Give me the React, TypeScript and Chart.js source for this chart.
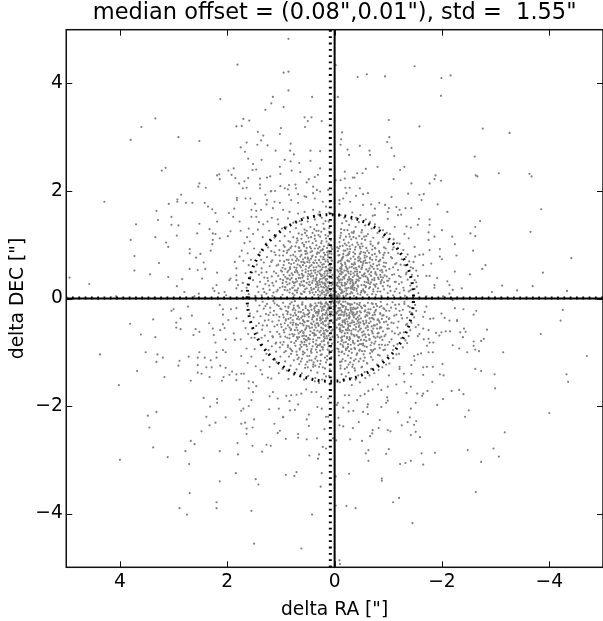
import React, { useEffect, useRef } from "react";
import { Chart, registerables } from "chart.js";

Chart.register(...registerables);

const titleText = 'median offset = (0.08",0.01"), std =  1.55"';
const xLabel = 'delta RA ["]';
const yLabel = 'delta DEC ["]';
const tickValues = [4, 2, 0, -2, -4];
const medianRa = 0.08;
const medianDec = 0.01;
const stdRadius = 1.55;

const outerNW = [[.86,4.83],[1.81,4.35],[.95,4.2],[.86,4.22],[.86,3.87],[2.13,3.71],[1.15,3.75],[1.18,3.63],[.42,3.75],[.95,3.56],[1.29,3.51],[3.34,3.35],[3.6,3.19],[3.8,2.95],[2.91,3.0],[2.52,2.93],[1.7,3.34],[1.59,3.31],[1.73,3.21],[1.83,3.2],[.56,3.37],[.43,3.37],[.5,3.3],[.55,3.19],[.24,3.3],[1.0,3.17],[1.02,3.06],[1.43,3.1],[1.33,3.03],[1.37,2.94],[1.44,2.86],[1.25,2.85],[.82,2.88],[1.75,2.81],[1.67,2.73],[1.64,2.9],[1.1,2.75],[.83,2.75],[.45,2.75],[.27,2.74],[.76,2.68],[1.61,2.6],[1.36,2.58],[.93,2.58],[.82,2.55],[.66,2.52],[.45,2.56],[1.52,2.5],[1.02,2.45],[1.53,2.39],[1.46,2.4],[.27,2.42],[3.15,2.43],[3.22,2.38],[1.88,2.42],[1.98,2.38],[1.92,2.3],[2.15,2.31],[2.19,2.29],[2.14,2.22],[.8,2.38],[.64,2.35],[1.01,2.32],[1.2,2.27],[1.26,2.25],[1.61,2.24],[1.39,2.23],[.31,2.3],[.37,2.26],[.48,2.22],[1.85,2.24],[.52,2.16],[1.68,2.18],[1.39,2.12],[1.78,2.14],[2.52,2.14],[2.54,2.08],[2.4,2.06],[1.64,2.06],[1.71,2.05],[1.39,2.05],[.73,2.12],[.85,2.11],[1.01,2.09],[.72,2.05],[.93,2.05],[1.11,2.0],[1.19,1.99],[.4,2.08],[.33,2.02],[4.29,1.8],[2.86,1.93],[2.93,1.84],[2.93,1.8],[3.09,1.76],[2.77,1.78],[2.65,1.78],[2.42,1.78],[2.36,1.71],[2.28,1.66],[2.22,1.59],[3.32,1.63],[3.04,1.52],[3.29,1.46],[1.97,1.59],[1.87,1.67],[1.89,1.52],[1.77,1.43],[2.19,1.43],[2.52,1.39],[3.7,1.38],[3.04,1.37],[2.91,1.36],[1.82,1.87],[1.82,1.83],[1.66,1.86],[1.57,1.86],[1.48,1.76],[1.55,1.65],[1.46,1.63],[1.37,1.65],[1.55,1.52],[1.46,1.52],[1.29,1.93],[1.18,2.0],[1.26,1.83],[1.12,1.8],[1.02,1.78],[.85,1.93],[.87,2.03],[.68,1.94],[.56,1.9],[.4,1.96],[.27,1.99],[.12,2.02],[1.27,1.75],[1.15,1.68],[.96,1.65],[.84,1.61],[.68,1.58],[.56,1.61],[.4,1.65],[.28,1.61],[.16,1.71],[.09,1.8],[.22,1.8],[.37,1.86],[.53,1.89],[.68,1.78],[.81,1.83],[3.8,1.09],[3.34,1.14],[3.14,1.04],[3.1,.96],[3.73,.79],[3.73,.52],[3.27,.66],[3.44,.45],[3.1,.4],[2.84,.36],[2.94,.23],[4.94,.39],[4.57,.27],[2.7,.92],[2.7,.84],[2.58,.76],[2.5,.83],[2.44,.67],[2.7,.55],[2.55,.53],[2.41,.55],[2.47,.37],[2.8,.12],[4.07,.04],[2.61,.04],[2.53,.09],[2.19,.48],[2.31,.89],[2.56,1.21],[2.33,1.29],[2.27,1.21],[2.22,1.2],[2.14,1.12],[1.99,1.16],[1.94,1.25],[1.75,1.26],[2.94,1.17],[2.27,1.09],[2.28,1.01],[1.73,.89],[1.58,1.06],[1.86,.68],[1.77,.78],[1.7,.7],[1.83,.56],[1.83,.43],[1.96,.34],[1.83,.34],[2.2,.25],[2.27,.19],[2.24,.14],[2.16,.1],[2.05,.12],[2.02,.06],[1.94,.37],[1.8,.25],[1.71,.29],[1.73,.14],[1.83,.19],[1.41,1.42],[1.33,1.38],[1.25,1.43],[1.17,1.5],[1.06,1.47],[1.43,1.28],[1.52,1.2],[1.6,1.3],[1.63,1.14],[1.68,1.03],[1.62,.84],[1.6,.62],[1.66,.47],[1.57,.4],[1.64,.2],[1.6,.08]];

const outerNE = [[-1.49,4.32],[-.6,4.17],[-.43,4.12],[-.94,4.13],[-1.99,4.1],[-2.16,4.15],[-1.98,3.77],[-.02,4.34],[-.06,3.75],[-1.01,3.32],[-1.58,3.2],[-2.76,3.16],[-3.26,3.08],[-.14,3.09],[-.12,2.96],[-.11,2.86],[-.47,2.84],[-1.02,3],[-.98,2.91],[-1.06,2.8],[-1.11,2.65],[-.24,2.77],[-.27,2.67],[-.65,2.75],[-.66,2.67],[-2.61,2.64],[-.8,2.45],[-.58,2.41],[-.52,2.33],[-.42,2.33],[-.19,2.36],[-.37,2.25],[-.34,2.25],[-.19,2.23],[-.11,2.2],[-.02,2.2],[-1.3,2.45],[-1.22,2.39],[-1.1,2.22],[-1.43,2.14],[-1.88,2.29],[-1.86,2.22],[-1.98,2.19],[-1.77,2.14],[-2.63,2.29],[-2.66,2.27],[-3.06,2.33],[-3.63,2.32],[-3.67,2.27],[-3.85,1.66],[-4.41,.75],[-3.88,.48],[-3.65,1.24],[-3.69,.23],[-3.4,.15],[-4.33,.14],[-3.12,.24],[-2.93,.12],[-2.37,.19],[-2.2,.16],[-2.71,1.44],[-2.62,1.33],[-2.53,1.21],[-2.62,1.16],[-2.58,.89],[-2.81,.62],[-2.75,.55],[-2.52,.45],[-2.1,1.61],[-1.92,1.75],[-1.62,1.83],[-1.58,1.93],[-1.66,1.94],[-1.37,1.95],[-1.06,1.89],[-.47,2.05],[-.28,2.06],[-.2,2.06],[-.22,1.96],[-.53,1.94],[-.62,1.96],[-.4,1.91],[-.29,1.8],[-.16,1.86],[-.09,1.83],[-.09,1.76],[-.53,1.74],[-.68,1.75],[-.83,1.78],[-.75,1.67],[-.94,1.74],[-1.01,1.68],[-1.15,1.7],[-1.32,1.68],[-1.43,1.68],[-1.21,1.65],[-1.18,1.55],[-1.24,1.56],[-.99,1.61],[-.99,1.48],[-.75,1.55],[-.71,1.54],[-1.57,1.48],[-1.77,1.47],[-1.55,1.37],[-1.77,1.37],[-1.34,1.34],[-1.42,1.32],[-1.75,1.23],[-2,1.27],[-1.86,1.15],[-1.75,1.09],[-1.49,.96],[-1.77,.9],[-1.96,.92],[-1.65,.82],[-1.58,.81],[-2.27,.8],[-2.24,1.01],[-2.19,1.15],[-1.96,.78],[-2,.73],[-1.8,.65],[-1.65,.62],[-1.47,.68],[-1.46,.56],[-1.77,.42],[-1.71,.42],[-1.91,.38],[-2.1,.32],[-2.14,.25],[-2.24,.5],[-1.86,.25],[-1.86,.2],[-2.14,.09],[-2.02,.04],[-1.71,.04],[-1.52,.3],[-1.49,.18],[-1.55,.42],[-1.38,1.12],[-1.3,1.2],[-1.12,1.33],[-1.5,.78],[-1.56,.1]];

const outerSW = [[4.37,-1.04],[4.02,-1.61],[4.0,-3.0],[3.81,-.47],[3.61,-.67],[3.38,-.39],[3.34,-.72],[3.52,-1.0],[3.3,-1.04],[3.32,-1.18],[3.2,-1.1],[3.68,-1.35],[3.17,-1.46],[3.48,-2.18],[3.32,-2.11],[3.45,-2.4],[3.38,-2.77],[3.11,-2.95],[2.78,-2.84],[2.71,-3.08],[2.68,-2.65],[2.61,-2.71],[2.7,-3.62],[2.89,-3.9],[2.75,-4.02],[2.2,-3.79],[2.2,-3.9],[2.14,-2.84],[2.14,-3.4],[1.84,-3.25],[1.8,-2.9],[1.55,-3.95],[1.5,-4.56],[.62,-4.65],[.42,-4.02],[.26,-3.5],[.24,-3.25],[1.47,-3.36],[1.42,-3.46],[.91,-3.28],[.75,-3.3],[.71,-3.23],[.47,-2.92],[.31,-2.98],[.29,-2.9],[.22,-2.76],[.16,-2.79],[1.27,-2.72],[1.19,-2.74],[1.35,-2.85],[1.53,-2.74],[1.81,-2.69],[.91,-2.61],[.68,-2.52],[.68,-2.59],[.52,-2.62],[.33,-2.6],[2.48,-2.47],[2.33,-2.36],[2.22,-2.31],[2.39,-2.2],[2.03,-2.21],[2.44,-1.85],[2.32,-2.01],[2.19,-1.87],[2.19,-1.94],[1.74,-2.33],[1.67,-2.31],[1.53,-2.4],[1.64,-2.42],[1.64,-2.52],[1.5,-2.25],[1.12,-2.33],[1.02,-2.46],[1.06,-2.5],[.96,-2.21],[.48,-2.16],[.52,-2.25],[.48,-2.37],[.19,-2.43],[.12,-2.2],[.16,-2.2],[.03,-2.6],[1.74,-2.09],[1.7,-2.05],[1.77,-1.88],[1.55,-1.89],[1.6,-2],[1.22,-2.06],[1.04,-2.05],[.83,-2.08],[.74,-2.07],[.96,-2.2],[.68,-1.97],[.32,-2.02],[.24,-2.05],[3.0,-.2],[3.04,-.23],[2.73,-.15],[2.87,-.37],[2.66,-.32],[2.95,-.45],[2.95,-.54],[2.87,-.57],[2.59,-.57],[2.63,-.68],[2.52,-.62],[2.34,-.46],[2.27,-.56],[2.25,-.68],[2.2,-1.0],[2.72,-1.08],[2.89,-1.16],[2.91,-1.25],[2.55,-1.1],[2.55,-1.24],[2.55,-1.38],[2.48,-1.4],[2.42,-1.1],[2.31,-1.15],[2.39,-1.28],[2.29,-1.28],[2.33,-1.46],[2.68,-1.53],[2.52,-1.0],[2.2,-1.1],[2.08,-.96],[2.03,-1.0],[2.13,-1.25],[2.03,-1.29],[1.91,-1.36],[1.96,-1.42],[2.07,-1.46],[2.1,-1.53],[2.14,-.12],[2.08,-.2],[1.93,-.2],[1.83,-.18],[2.08,-.3],[1.98,-.4],[1.83,-.37],[2.08,-.48],[2.13,-.59],[2.05,-.55],[1.88,-.65],[2.03,-.76],[1.86,-.77],[1.75,-.76],[2.22,-.82],[1.61,-.66],[1.49,-.73],[1.64,-.93],[1.74,-1.07],[1.83,-1.41],[1.74,-1.4],[1.69,-1.4],[1.83,-1.52],[1.6,-1.54],[1.52,-1.56],[1.46,-1.63],[1.35,-1.41],[1.24,-1.47],[1.18,-1.49],[1.6,-1.67],[1.52,-1.74],[1.21,-1.82],[1.15,-1.74],[1.06,-1.86],[.9,-1.81],[.81,-1.8],[.71,-1.79],[.62,-1.77],[.84,-1.91],[.53,-1.69],[.34,-1.74],[.25,-1.83],[.12,-1.86],[.43,-1.74],[1.62,-1.2],[1.55,-1.08],[1.47,-1.26],[1.38,-1.33],[1.66,-.55],[1.7,-.42],[1.58,-.28],[1.62,-.14]];

const outerSE = [[-4.25,-.21],[-4.21,-.41],[-3.84,-.66],[-4.7,-1.07],[-4.32,-1.41],[-4.35,-1.55],[-4.0,-2.13],[-3.17,-2.49],[-3.14,-1.0],[-2.98,-1.41],[-2.99,-1.67],[-2.4,-1.78],[-2.32,-1.7],[-2.18,-1.72],[-2.5,-2.08],[-2.43,-2.2],[-2.48,-2.82],[-2.96,-2.79],[-3.06,-2.94],[-2.73,-3.04],[-2.63,-3.6],[-1.45,-4.18],[-.09,-4.87],[-.1,-4.94],[-.39,-3.9],[-.22,-3.86],[-.02,-3.85],[-1.09,-3.79],[-1.2,-3.71],[-.88,-3.35],[-.88,-3.39],[-.27,-3.26],[-.02,-3.31],[-1.22,-3.08],[-1.32,-3.06],[-1.42,-3.02],[-1.65,-3.09],[-1.87,-2.87],[-1.62,-2.88],[-1.01,-2.8],[-.96,-2.89],[-.63,-2.82],[-.58,-2.88],[-.63,-3.02],[-.29,-2.62],[-.51,-2.65],[-.03,-2.64],[-1.42,-2.54],[-1.59,-2.58],[-1.51,-2.48],[-.99,-2.45],[-1.04,-2.47],[-.71,-2.45],[-.7,-2.51],[-.66,-2.56],[-.82,-2.41],[-.84,-2.26],[-.45,-2.3],[-.34,-2.41],[-.16,-2.38],[-.09,-2.36],[-.07,-2.22],[-1.25,-2.36],[-1.36,-2.3],[-1.4,-2.21],[-1.52,-2.28],[-1.48,-2.35],[-1.18,-2.12],[-1.42,-2.05],[-1.51,-1.94],[-1.91,-1.98],[-2.02,-1.87],[-1.73,-1.72],[-1.63,-1.81],[-1.54,-1.77],[-1.34,-1.76],[-.98,-1.84],[-.99,-1.9],[-.96,-1.94],[-.87,-2.02],[-.62,-1.97],[-.61,-2.02],[-.62,-2.15],[-.53,-2.11],[-.35,-2.09],[-.26,-2.1],[-.16,-2.03],[-.06,-1.94],[-.04,-1.98],[-.26,-1.94],[-.19,-1.8],[-.27,-1.8],[-.42,-1.89],[-.48,-1.81],[-.56,-1.78],[-.63,-1.72],[-.71,-1.69],[-.87,-1.7],[-.81,-1.6],[-.99,-1.64],[-1.15,-1.6],[-1.3,-1.55],[-1.42,-1.64],[-1.65,-1.77],[-1.96,-1.41],[-2.03,-1.43],[-1.82,-1.55],[-1.65,-1.42],[-1.43,-1.4],[-1.29,-1.4],[-1.01,-1.43],[-1.21,-1.27],[-1.21,-1.31],[-1.43,-1.24],[-1.65,-1.28],[-1.72,-1.27],[-1.83,-1.27],[-2.01,-1.22],[-2.62,-1.31],[-2.73,-1.35],[-2.47,-1.0],[-2.62,-.95],[-2.69,-.98],[-2.59,-.88],[-2.32,-.93],[-2.2,-.87],[-2.78,-.75],[-2.73,-.79],[-2.59,-.8],[-2.44,-.62],[-2.39,-.72],[-2.34,-.63],[-2.41,-.56],[-2.84,-.58],[-2.64,-.23],[-2.59,-.3],[-2.4,-.2],[-2.28,-.4],[-2.28,-.42],[-2.24,-.18],[-2.05,-.36],[-2.14,-.41],[-2.07,-.61],[-2.15,-.61],[-1.99,-.63],[-1.89,-.64],[-1.95,-.69],[-1.75,-.59],[-1.84,-.82],[-1.77,-.82],[-1.75,-.75],[-1.66,-.76],[-1.72,-.88],[-1.83,-1.0],[-1.75,-1.0],[-1.61,-1.02],[-1.55,-1.04],[-1.48,-1.07],[-1.49,-1.15],[-1.65,-.34],[-1.68,-.25],[-1.84,-.37],[-1.78,-.38],[-1.56,-.49],[-1.65,-.56],[-1.58,-.66],[-1.55,-.7],[-1.71,-.15],[-1.99,-.28],[-2.2,-.03],[-1.5,-.12],[-1.44,-.27]];

const innerNW = [[1.48,.05],[1.42,.12],[1.36,.06],[1.44,.22],[1.33,.18],[1.27,.09],[1.39,.31],[1.29,.27],[1.21,.16],[1.16,.05],[1.41,.44],[1.31,.39],[1.24,.33],[1.14,.24],[1.08,.13],[1.36,.56],[1.27,.49],[1.17,.41],[1.09,.32],[1.02,.2],[.97,.07],[1.32,.67],[1.21,.6],[1.13,.5],[1.05,.42],[.97,.29],[.93,.16],[1.26,.77],[1.16,.71],[1.08,.61],[1.0,.52],[.92,.4],[.88,.26],[.84,.11],[1.18,.88],[1.1,.81],[1.02,.7],[.95,.62],[.88,.49],[.83,.35],[.79,.2],[.75,.06],[1.1,.98],[1.03,.9],[.96,.8],[.89,.72],[.83,.58],[.78,.44],[.73,.3],[.7,.15],[1.02,1.07],[.95,.99],[.88,.89],[.82,.8],[.76,.66],[.72,.53],[.67,.38],[.64,.24],[.61,.08],[.93,1.16],[.86,1.07],[.8,.97],[.74,.87],[.7,.74],[.65,.61],[.61,.46],[.57,.32],[.55,.17],[.83,1.24],[.77,1.14],[.71,1.04],[.66,.94],[.62,.81],[.58,.68],[.54,.54],[.5,.41],[.48,.26],[.46,.1],[.72,1.31],[.67,1.21],[.62,1.11],[.57,1.0],[.53,.88],[.5,.74],[.46,.6],[.43,.47],[.41,.33],[.39,.18],[.62,1.38],[.56,1.28],[.52,1.17],[.48,1.06],[.44,.93],[.41,.8],[.38,.66],[.36,.53],[.34,.39],[.32,.25],[.31,.07],[.5,1.43],[.45,1.33],[.41,1.22],[.37,1.11],[.34,.99],[.32,.86],[.29,.72],[.27,.59],[.26,.45],[.24,.31],[.23,.15],[.37,1.47],[.33,1.37],[.3,1.26],[.27,1.15],[.25,1.03],[.23,.9],[.21,.77],[.2,.64],[.18,.5],[.17,.36],[.16,.22],[.15,.09],[.24,1.5],[.21,1.39],[.19,1.29],[.17,1.18],[.15,1.06],[.14,.94],[.13,.81],[.12,.68],[.11,.55],[.1,.41],[.09,.28],[.08,.14],[.11,1.43],[.1,1.31],[.09,1.2],[.07,1.08],[.06,.96],[.06,.83],[.05,.7],[.05,.57],[.04,.44],[.04,.3],[.03,.19],[.03,.07],[.96,.34],[.87,.37],[.78,.31],[.69,.48],[.6,.39],[.52,.29],[.44,.2],[.35,.12],[.27,.06],[.2,.12],[.13,.2],[.92,.55],[.85,.66],[.75,.58],[.67,.71],[.59,.62],[.49,.51],[.4,.42],[.33,.31],[.25,.22],[.19,.29],[.14,.36],[.82,.94],[.73,.78],[.63,.89],[.55,.76],[.47,.67],[.39,.58],[.31,.5],[.23,.43],[.17,.58],[.13,.47],[.7,1.12],[.6,1.03],[.52,.94],[.42,.88],[.35,.77],[.26,.67],[.19,.73],[.12,.88],[.08,.63],[.55,1.22],[.44,1.14],[.35,1.07],[.28,.96],[.2,.85],[.11,1.02]];

const innerNE = [[-1.46,.06],[-1.38,.13],[-1.31,.05],[-1.41,.24],[-1.28,.2],[-1.21,.1],[-1.36,.35],[-1.25,.3],[-1.15,.18],[-1.09,.06],[-1.34,.48],[-1.2,.42],[-1.12,.31],[-1.03,.22],[-.99,.1],[-1.3,.62],[-1.18,.53],[-1.07,.44],[-.98,.33],[-.92,.17],[-.87,.05],[-1.25,.73],[-1.13,.64],[-1.02,.55],[-.93,.43],[-.86,.28],[-.8,.13],[-1.18,.84],[-1.07,.75],[-.96,.66],[-.88,.53],[-.81,.39],[-.75,.25],[-.7,.08],[-1.1,.95],[-1.0,.85],[-.9,.76],[-.83,.63],[-.76,.49],[-.7,.35],[-.64,.19],[-1.0,1.05],[-.92,.95],[-.84,.85],[-.77,.72],[-.7,.59],[-.65,.45],[-.6,.3],[-.57,.12],[-.9,1.14],[-.82,1.04],[-.76,.93],[-.7,.81],[-.65,.67],[-.59,.54],[-.54,.41],[-.5,.25],[-.48,.07],[-.8,1.22],[-.72,1.13],[-.67,1.01],[-.61,.89],[-.56,.76],[-.52,.62],[-.47,.49],[-.44,.34],[-.41,.18],[-.69,1.3],[-.62,1.2],[-.57,1.09],[-.52,.97],[-.48,.84],[-.44,.7],[-.4,.57],[-.37,.43],[-.35,.27],[-.33,.1],[-.57,1.36],[-.51,1.27],[-.46,1.16],[-.42,1.04],[-.38,.91],[-.35,.78],[-.32,.64],[-.3,.5],[-.28,.36],[-.26,.2],[-.45,1.42],[-.39,1.33],[-.35,1.22],[-.31,1.1],[-.28,.97],[-.26,.84],[-.24,.71],[-.22,.57],[-.2,.43],[-.19,.29],[-.18,.13],[-.32,1.47],[-.27,1.37],[-.24,1.27],[-.21,1.15],[-.19,1.02],[-.17,.89],[-.15,.76],[-.14,.62],[-.13,.49],[-.11,.35],[-.1,.21],[-.09,.06],[-.18,1.5],[-.14,1.4],[-.12,1.29],[-.11,1.17],[-.09,1.05],[-.08,.93],[-.07,.8],[-.06,.67],[-.05,.53],[-.05,.39],[-.04,.25],[-.03,.12],[-1.02,.37],[-.92,.3],[-.85,.44],[-.74,.38],[-.66,.27],[-.58,.21],[-.5,.14],[-.43,.24],[-.36,.16],[-.29,.09],[-.22,.15],[-.15,.24],[-.91,.6],[-.8,.55],[-.72,.64],[-.63,.52],[-.55,.45],[-.46,.38],[-.39,.29],[-.31,.22],[-.24,.31],[-.16,.4],[-.09,.3],[-.85,.72],[-.75,.83],[-.66,.74],[-.58,.66],[-.5,.55],[-.42,.46],[-.34,.4],[-.26,.47],[-.18,.52],[-.1,.46],[-.71,.98],[-.6,.78],[-.54,.86],[-.45,.78],[-.37,.67],[-.28,.58],[-.2,.64],[-.12,.58],[-.55,1.15],[-.47,.96],[-.38,.83],[-.3,.74],[-.22,.8],[-.13,.72],[-.4,1.12],[-.33,1.0],[-.24,.92],[-.15,.98]];

const innerSW = [[1.47,-.04],[1.4,-.13],[1.34,-.06],[1.44,-.24],[1.32,-.19],[1.26,-.1],[1.38,-.33],[1.28,-.29],[1.2,-.17],[1.14,-.05],[1.41,-.46],[1.3,-.41],[1.23,-.31],[1.13,-.23],[1.07,-.12],[1.35,-.58],[1.26,-.5],[1.16,-.43],[1.08,-.3],[1.01,-.19],[.96,-.08],[1.3,-.69],[1.2,-.62],[1.12,-.52],[1.04,-.41],[.96,-.3],[.92,-.15],[1.24,-.79],[1.15,-.72],[1.07,-.62],[.99,-.53],[.91,-.41],[.87,-.25],[.83,-.1],[1.17,-.89],[1.09,-.82],[1.01,-.71],[.94,-.63],[.87,-.5],[.82,-.36],[.78,-.21],[.74,-.05],[1.09,-.99],[1.02,-.91],[.95,-.81],[.88,-.73],[.82,-.59],[.77,-.45],[.72,-.31],[.69,-.14],[1.01,-1.08],[.94,-1.0],[.87,-.9],[.81,-.81],[.75,-.67],[.71,-.54],[.66,-.39],[.63,-.25],[.6,-.07],[.92,-1.17],[.85,-1.08],[.79,-.98],[.73,-.88],[.69,-.75],[.64,-.62],[.6,-.47],[.56,-.33],[.54,-.18],[.82,-1.25],[.76,-1.15],[.7,-1.05],[.65,-.95],[.61,-.82],[.57,-.69],[.53,-.55],[.49,-.42],[.47,-.27],[.45,-.11],[.71,-1.32],[.66,-1.22],[.61,-1.12],[.56,-1.01],[.52,-.89],[.49,-.75],[.45,-.61],[.42,-.48],[.4,-.34],[.38,-.19],[.61,-1.39],[.55,-1.29],[.51,-1.18],[.47,-1.07],[.43,-.94],[.4,-.81],[.37,-.67],[.35,-.54],[.33,-.4],[.31,-.26],[.3,-.08],[.49,-1.44],[.44,-1.34],[.4,-1.23],[.36,-1.12],[.33,-1.0],[.31,-.87],[.28,-.73],[.26,-.6],[.25,-.46],[.23,-.32],[.22,-.16],[.36,-1.48],[.32,-1.38],[.29,-1.27],[.26,-1.16],[.24,-1.04],[.22,-.91],[.2,-.78],[.19,-.65],[.17,-.51],[.16,-.37],[.15,-.23],[.14,-.1],[.23,-1.51],[.2,-1.4],[.18,-1.3],[.16,-1.19],[.14,-1.07],[.13,-.95],[.12,-.82],[.11,-.69],[.1,-.56],[.09,-.42],[.08,-.29],[.07,-.15],[.1,-1.44],[.09,-1.32],[.08,-1.21],[.06,-1.09],[.05,-.97],[.05,-.84],[.04,-.71],[.04,-.58],[.03,-.45],[.03,-.31],[.02,-.2],[.02,-.08],[.95,-.35],[.86,-.38],[.77,-.32],[.68,-.49],[.59,-.4],[.51,-.3],[.43,-.21],[.34,-.13],[.26,-.07],[.19,-.13],[.12,-.21],[.91,-.56],[.84,-.67],[.74,-.59],[.66,-.72],[.58,-.63],[.48,-.52],[.39,-.43],[.32,-.32],[.24,-.23],[.18,-.3],[.13,-.37],[.81,-.95],[.72,-.79],[.62,-.9],[.54,-.77],[.46,-.68],[.38,-.59],[.3,-.51],[.22,-.44],[.16,-.59],[.12,-.48],[.69,-1.13],[.59,-1.04],[.51,-.95],[.41,-.89],[.34,-.78],[.25,-.68],[.18,-.74],[.11,-.89],[.07,-.64],[.54,-1.23],[.43,-1.15],[.34,-1.08],[.27,-.97],[.19,-.86],[.1,-1.03]];

const innerSE = [[-1.45,-.07],[-1.37,-.14],[-1.3,-.06],[-1.4,-.25],[-1.27,-.21],[-1.2,-.11],[-1.35,-.36],[-1.24,-.31],[-1.14,-.19],[-1.08,-.07],[-1.33,-.49],[-1.19,-.43],[-1.11,-.32],[-1.02,-.23],[-.98,-.11],[-1.29,-.63],[-1.17,-.54],[-1.06,-.45],[-.97,-.34],[-.91,-.18],[-.86,-.06],[-1.24,-.74],[-1.12,-.65],[-1.01,-.56],[-.92,-.44],[-.85,-.29],[-.79,-.14],[-1.17,-.85],[-1.06,-.76],[-.95,-.67],[-.87,-.54],[-.8,-.4],[-.74,-.26],[-.69,-.09],[-1.09,-.96],[-.99,-.86],[-.89,-.77],[-.82,-.64],[-.75,-.5],[-.69,-.36],[-.63,-.2],[-.99,-1.06],[-.91,-.96],[-.83,-.86],[-.76,-.73],[-.69,-.6],[-.64,-.46],[-.59,-.31],[-.56,-.13],[-.89,-1.15],[-.81,-1.05],[-.75,-.94],[-.69,-.82],[-.64,-.68],[-.58,-.55],[-.53,-.42],[-.49,-.26],[-.47,-.08],[-.79,-1.23],[-.71,-1.14],[-.66,-1.02],[-.6,-.9],[-.55,-.77],[-.51,-.63],[-.46,-.5],[-.43,-.35],[-.4,-.19],[-.68,-1.31],[-.61,-1.21],[-.56,-1.1],[-.51,-.98],[-.47,-.85],[-.43,-.71],[-.39,-.58],[-.36,-.44],[-.34,-.28],[-.32,-.11],[-.56,-1.37],[-.5,-1.28],[-.45,-1.17],[-.41,-1.05],[-.37,-.92],[-.34,-.79],[-.31,-.65],[-.29,-.51],[-.27,-.37],[-.25,-.21],[-.44,-1.43],[-.38,-1.34],[-.34,-1.23],[-.3,-1.11],[-.27,-.98],[-.25,-.85],[-.23,-.72],[-.21,-.58],[-.19,-.44],[-.18,-.3],[-.17,-.14],[-.31,-1.48],[-.26,-1.38],[-.23,-1.28],[-.2,-1.16],[-.18,-1.03],[-.16,-.9],[-.14,-.77],[-.13,-.63],[-.12,-.5],[-.1,-.36],[-.09,-.22],[-.08,-.07],[-.17,-1.51],[-.13,-1.41],[-.11,-1.3],[-.1,-1.18],[-.08,-1.06],[-.07,-.94],[-.06,-.81],[-.05,-.68],[-.04,-.54],[-.04,-.4],[-.03,-.26],[-.02,-.13],[-1.01,-.38],[-.91,-.31],[-.84,-.45],[-.73,-.39],[-.65,-.28],[-.57,-.22],[-.49,-.15],[-.42,-.25],[-.35,-.17],[-.28,-.1],[-.21,-.16],[-.14,-.25],[-.9,-.61],[-.79,-.56],[-.71,-.65],[-.62,-.53],[-.54,-.46],[-.45,-.39],[-.38,-.3],[-.3,-.23],[-.23,-.32],[-.15,-.41],[-.08,-.31],[-.84,-.73],[-.74,-.84],[-.65,-.75],[-.57,-.67],[-.49,-.56],[-.41,-.47],[-.33,-.41],[-.25,-.48],[-.17,-.53],[-.09,-.47],[-.7,-.99],[-.59,-.79],[-.53,-.87],[-.44,-.79],[-.36,-.68],[-.27,-.59],[-.19,-.65],[-.11,-.59],[-.54,-1.16],[-.46,-.97],[-.37,-.84],[-.29,-.75],[-.21,-.81],[-.12,-.73],[-.39,-1.13],[-.32,-1.01],[-.23,-.93],[-.14,-.99]];

const denseNW = [[.31,.93],[.58,.42],[.12,.77],[.84,.28],[.43,.16],[.67,.95],[.22,.58],[1.05,.63],[.36,.71],[.09,.39],[.74,.49],[.51,.84],[.28,.13],[.95,.44],[.16,1.12],[.62,.31],[.41,1.03],[.05,.92],[1.22,.24],[.79,.72],[.33,.44],[.18,.25],[.56,.66],[.89,.85],[.47,.31],[.07,.17],[.7,.11],[.25,1.24],[.38,.07],[1.12,.86],[.15,.52],[.64,.78],[.29,.33],[.83,.17],[.49,1.13],[.11,.62],[.97,.57],[.35,.21],[.72,.36],[.2,.97],[.54,.49],[.04,.27],[1.31,.12],[.44,.74],[.86,.52],[.26,.78],[.61,1.19],[.13,.14],[.78,.09],[.39,.52],[.92,.21],[.17,.69],[.52,.19],[1.01,.36],[.3,.61],[.69,.63],[.08,.48],[.46,.96],[.23,.37],[.81,.64],[.57,.23],[.37,1.17],[.14,.86],[1.16,.29],[.66,.44],[.27,.26],[.48,.57],[.1,1.24],[.88,.15],[.33,.83],[.59,.73],[.19,.46],[.75,.24],[.42,.29],[1.09,.47],[.24,1.07],[.63,.09],[.06,.71],[.53,1.05],[.31,.16],[.94,.69],[.16,.33],[.71,.57],[.44,.41],[.21,.21],[.84,.43],[.37,.93],[.58,.13],[.12,1.16],[.77,.81],[.28,.47],[.5,.36],[1.25,.38],[.09,.54],[.65,.27],[.34,.58],[.18,.81],[.9,.31],[.43,.62],[.24,.11],[.73,.97],[.55,.88],[.14,.43],[.39,.18],[.98,.5],[.29,.71],[.6,.52],[.07,.98],[.47,.13],[.8,.38],[.22,.92],[1.36,.48],[.68,.19],[.32,.28],[.16,.59],[.51,.68],[.86,.72],[.38,1.29],[.11,.23],[.76,.29],[.45,.86],[.27,.52],[.62,.68],[.2,.39],[1.06,.16],[.35,.36],[.57,.97],[.13,.72],[.83,.55],[.41,.11],[.26,.89],[.7,.32],[.49,.46],[.1,.31],[.93,.96],[.3,1.18],[.64,.38],[.19,.07],[.54,.83],[.36,.48],[1.18,.68],[.74,.15],[.22,.73],[.46,.25],[.85,.91],[.05,.38],[.6,.44],[.33,.66],[.15,.17],[.97,.22],[.42,.78],[.69,1.08],[.28,.3],[.53,.6],[.12,.99],[.8,.47],[.39,.37],[.24,.54],[.66,.88],[.47,.71],[1.14,.11],[.17,.27],[.58,.33],[.34,1.26],[.89,.37],[.08,.58],[.72,.7],[.44,.52],[.25,.42],[.56,.12],[.2,1.3],[1.03,.8],[.31,.24],[.63,.58],[.13,.51],[.78,.2],[.4,.67],[.52,1.26],[.95,.88],[.29,.85],[.16,.15],[.7,.51],[.46,.44],[.1,.84],[.83,1.05],[.36,.33],[.6,.25],[.23,.63],[.5,.76]];

const denseNE = [[-.29,.92],[-.61,.39],[-.14,.75],[-.86,.31],[-.41,.14],[-.7,.91],[-.24,.55],[-1.09,.58],[-.38,.73],[-.08,.41],[-.76,.46],[-.49,.87],[-.31,.12],[-.97,.41],[-.17,1.09],[-.63,.33],[-.44,1.0],[-.06,.88],[-1.2,.27],[-.82,.69],[-.35,.47],[-.2,.27],[-.54,.69],[-.91,.81],[-.45,.33],[-.09,.19],[-.72,.13],[-.27,1.2],[-.36,.05],[-1.08,.91],[-.13,.55],[-.66,.76],[-.3,.36],[-.81,.19],[-.51,1.11],[-.12,.65],[-.94,.59],[-.33,.23],[-.74,.34],[-.22,.99],[-.56,.47],[-.05,.29],[-1.29,.15],[-.46,.71],[-.89,.49],[-.25,.81],[-.59,1.16],[-.15,.11],[-.77,.07],[-.41,.54],[-.9,.23],[-.19,.67],[-.53,.17],[-1.0,.33],[-.32,.59],[-.67,.61],[-.07,.5],[-.48,.93],[-.25,.35],[-.79,.61],[-.55,.25],[-.35,1.14],[-.16,.83],[-1.14,.31],[-.68,.42],[-.29,.28],[-.46,.59],[-.12,1.22],[-.85,.13],[-.35,.86],[-.57,.71],[-.21,.44],[-.73,.26],[-.4,.31],[-1.11,.45],[-.26,1.04],[-.61,.07],[-.08,.69],[-.5,1.02],[-.33,.18],[-.92,.67],[-.14,.35],[-.73,.55],[-.42,.43],[-.23,.19],[-.86,.4],[-.39,.96],[-.56,.11],[-.1,1.13],[-.78,.78],[-.3,.45],[-.48,.38],[-1.23,.4],[-.11,.52],[-.63,.29],[-.36,.56],[-.16,.78],[-.88,.34],[-.45,.6],[-.22,.09],[-.75,.94],[-.57,.85],[-.12,.45],[-.37,.2],[-.96,.52],[-.27,.69],[-.62,.5],[-.05,.95],[-.49,.11],[-.82,.36],[-.2,.89],[-1.33,.45],[-.66,.21],[-.34,.26],[-.14,.61],[-.53,.66],[-.84,.7],[-.36,1.25],[-.13,.25],[-.78,.27],[-.47,.83],[-.25,.5],[-.6,.66],[-.18,.37],[-1.04,.14],[-.33,.34],[-.59,.94],[-.11,.7],[-.85,.52],[-.43,.09],[-.28,.87],[-.68,.3],[-.51,.43],[-.08,.33],[-.95,.93],[-.28,1.15],[-.62,.36],[-.21,.05],[-.56,.8],[-.38,.5],[-1.15,.66],[-.72,.17],[-.24,.7],[-.44,.22],[-.83,.88],[-.07,.36],[-.58,.41],[-.35,.63],[-.13,.16],[-.99,.24],[-.44,.76],[-.67,1.06],[-.3,.32],[-.51,.58],[-.1,.97],[-.78,.44],[-.41,.35],[-.22,.52],[-.64,.85],[-.49,.68],[-1.12,.13],[-.19,.24],[-.56,.31],[-.32,1.23],[-.9,.39],[-.1,.56],[-.7,.72],[-.42,.5],[-.27,.4],[-.54,.14],[-.18,1.27],[-1.05,.77],[-.33,.21],[-.65,.56],[-.15,.48],[-.76,.22],[-.38,.64],[-.5,1.23],[-.93,.85],[-.27,.83],[-.14,.13],[-.68,.49],[-.44,.41],[-.09,.81],[-.81,1.02],[-.34,.3],[-.58,.23],[-.21,.6],[-.48,.74]];

const denseSW = [[.33,-.9],[.56,-.44],[.14,-.74],[.82,-.3],[.45,-.14],[.65,-.93],[.2,-.6],[1.03,-.66],[.38,-.69],[.07,-.42],[.72,-.47],[.53,-.86],[.26,-.15],[.93,-.46],[.18,-1.1],[.6,-.33],[.43,-1.01],[.07,-.9],[1.2,-.26],[.77,-.7],[.31,-.46],[.16,-.27],[.58,-.64],[.87,-.87],[.49,-.29],[.09,-.15],[.68,-.13],[.27,-1.22],[.36,-.09],[1.1,-.84],[.17,-.5],[.62,-.8],[.27,-.35],[.86,-.15],[.47,-1.15],[.13,-.6],[.95,-.59],[.37,-.23],[.7,-.38],[.22,-.95],[.52,-.51],[.06,-.25],[1.29,-.14],[.46,-.76],[.84,-.54],[.24,-.8],[.63,-1.17],[.11,-.16],[.8,-.07],[.37,-.5],[.9,-.23],[.19,-.67],[.5,-.21],[1.03,-.34],[.28,-.63],[.67,-.65],[.1,-.46],[.44,-.98],[.25,-.39],[.79,-.66],[.59,-.21],[.39,-1.19],[.12,-.84],[1.14,-.31],[.64,-.46],[.29,-.24],[.46,-.55],[.08,-1.22],[.86,-.17],[.35,-.85],[.57,-.75],[.21,-.48],[.73,-.22],[.4,-.31],[1.07,-.49],[.26,-1.05],[.61,-.11],[.08,-.73],[.51,-1.07],[.33,-.14],[.92,-.71],[.14,-.35],[.69,-.59],[.42,-.39],[.23,-.19],[.82,-.45],[.35,-.95],[.6,-.11],[.14,-1.14],[.75,-.83],[.3,-.49],[.48,-.34],[1.23,-.4],[.11,-.52],[.67,-.25],[.32,-.6],[.2,-.79],[.88,-.29],[.41,-.64],[.26,-.09],[.71,-.99],[.57,-.86],[.16,-.41],[.37,-.16],[1.0,-.48],[.31,-.73],[.58,-.5],[.09,-1.0],[.45,-.15],[.78,-.4],[.24,-.9],[1.34,-.5],[.66,-.17],[.34,-.26],[.14,-.61],[.53,-.7],[.84,-.74],[.4,-1.27],[.09,-.25],[.74,-.27],[.47,-.84],[.25,-.54],[.6,-.7],[.22,-.37],[1.04,-.14],[.33,-.38],[.59,-.99],[.15,-.7],[.81,-.57],[.43,-.13],[.28,-.87],[.68,-.34],[.51,-.42],[.08,-.33],[.91,-.98],[.32,-1.16],[.62,-.36],[.17,-.09],[.56,-.81],[.34,-.46],[1.16,-.7],[.76,-.13],[.2,-.71],[.48,-.23],[.83,-.93],[.06,-.4],[.58,-.42],[.35,-.68],[.13,-.19],[.99,-.2],[.4,-.76],[.67,-1.1],[.3,-.28],[.55,-.58],[.1,-.97],[.78,-.49],[.41,-.35],[.22,-.56],[.64,-.86],[.49,-.73],[1.12,-.09],[.15,-.27],[.56,-.3],[.36,-1.25],[.91,-.39],[.06,-.6],[.7,-.72],[.42,-.54],[.27,-.41],[.54,-.14],[.22,-1.28],[1.01,-.82],[.33,-.25],[.61,-.6],[.11,-.53],[.76,-.18],[.38,-.65],[.5,-1.28],[.97,-.86],[.27,-.85],[.18,-.15],[.72,-.49],[.44,-.46],[.12,-.82],[.81,-1.03],[.38,-.33],[.58,-.27],[.21,-.65],[.52,-.78]];

const denseSE = [[-.31,-.94],[-.59,-.41],[-.13,-.79],[-.85,-.27],[-.43,-.17],[-.68,-.96],[-.23,-.59],[-1.07,-.61],[-.37,-.7],[-.09,-.38],[-.73,-.5],[-.5,-.85],[-.29,-.12],[-.96,-.43],[-.15,-1.13],[-.61,-.32],[-.42,-1.02],[-.05,-.93],[-1.21,-.23],[-.8,-.71],[-.32,-.45],[-.19,-.24],[-.55,-.67],[-.88,-.86],[-.46,-.32],[-.07,-.18],[-.71,-.1],[-.26,-1.23],[-.37,-.08],[-1.1,-.88],[-.16,-.53],[-.65,-.77],[-.28,-.34],[-.84,-.16],[-.48,-1.12],[-.1,-.61],[-.98,-.56],[-.34,-.2],[-.71,-.37],[-.21,-.96],[-.55,-.48],[-.04,-.28],[-1.3,-.1],[-.45,-.73],[-.85,-.53],[-.27,-.77],[-.6,-1.2],[-.14,-.13],[-.77,-.1],[-.4,-.53],[-.93,-.2],[-.18,-.7],[-.51,-.18],[-1.02,-.37],[-.31,-.6],[-.7,-.62],[-.08,-.49],[-.47,-.95],[-.22,-.38],[-.8,-.65],[-.56,-.24],[-.36,-1.16],[-.15,-.87],[-1.15,-.3],[-.67,-.43],[-.28,-.27],[-.47,-.58],[-.11,-1.25],[-.87,-.14],[-.34,-.82],[-.58,-.72],[-.2,-.47],[-.76,-.23],[-.41,-.28],[-1.1,-.46],[-.25,-1.06],[-.62,-.08],[-.07,-.72],[-.54,-1.04],[-.3,-.17],[-.93,-.7],[-.17,-.32],[-.72,-.56],[-.43,-.42],[-.22,-.2],[-.83,-.42],[-.38,-.94],[-.57,-.14],[-.13,-1.17],[-.76,-.8],[-.29,-.46],[-.49,-.37],[-1.26,-.37],[-.1,-.55],[-.64,-.26],[-.35,-.57],[-.17,-.82],[-.89,-.32],[-.44,-.61],[-.25,-.1],[-.72,-.96],[-.56,-.89],[-.15,-.44],[-.38,-.19],[-.99,-.49],[-.28,-.72],[-.61,-.51],[-.08,-.99],[-.46,-.12],[-.81,-.39],[-.21,-.93],[-1.35,-.47],[-.67,-.2],[-.33,-.29],[-.15,-.6],[-.52,-.69],[-.87,-.71],[-.37,-1.3],[-.12,-.22],[-.75,-.3],[-.44,-.87],[-.26,-.51],[-.63,-.67],[-.19,-.4],[-1.05,-.17],[-.36,-.35],[-.56,-.98],[-.14,-.71],[-.84,-.56],[-.42,-.1],[-.25,-.9],[-.71,-.31],[-.48,-.45],[-.11,-.3],[-.94,-.95],[-.29,-1.19],[-.65,-.37],[-.2,-.06],[-.53,-.84],[-.37,-.49],[-1.19,-.67],[-.73,-.16],[-.23,-.74],[-.47,-.24],[-.84,-.92],[-.06,-.37],[-.59,-.45],[-.32,-.67],[-.16,-.14],[-.96,-.23],[-.43,-.79],[-.68,-1.09],[-.27,-.31],[-.54,-.61],[-.13,-1.0],[-.79,-.48],[-.4,-.38],[-.25,-.55],[-.67,-.87],[-.46,-.72],[-1.13,-.12],[-.18,-.26],[-.57,-.34],[-.33,-1.27],[-.88,-.38],[-.09,-.57],[-.73,-.71],[-.45,-.53],[-.24,-.43],[-.55,-.13],[-.19,-1.31],[-1.02,-.81],[-.32,-.25],[-.62,-.59],[-.14,-.5],[-.77,-.21],[-.41,-.68],[-.51,-1.27],[-.94,-.87],[-.3,-.86],[-.15,-.16],[-.69,-.52],[-.45,-.45],[-.11,-.85],[-.84,-1.06],[-.35,-.32],[-.61,-.26],[-.24,-.64],[-.49,-.77]];

const ringPoints = [[1.12,1.13],[.98,1.3],[1.28,1.02],[1.39,.86],[1.45,.63],[1.52,.34],[.77,1.41],[.58,1.5],[.3,1.56],[.1,1.6],[1.34,1.14],[1.22,1.26],[1.05,1.38],[.87,1.49],[1.5,.93],[1.56,.72],[1.37,.72],[1.24,.95],[1.09,1.18],[.9,1.33],[.65,1.44],[1.47,.5],[.38,1.53],[.17,1.44],[-.11,1.55],[-.33,1.6],[-.58,1.47],[-.83,1.32],[-1.03,1.2],[-1.21,1.02],[-1.36,.82],[-1.42,.58],[-1.49,.34],[-.4,1.5],[-.66,1.42],[-.9,1.27],[-1.1,1.1],[-1.28,.9],[-1.39,.69],[-1.52,.52],[-.22,1.44],[-.48,1.55],[-.75,1.38],[-.97,1.22],[-1.16,1.03],[-1.33,.77],[-1.44,.44],[-1.41,.15],[-1.53,.22],[-1.23,.63],[1.11,-1.14],[.97,-1.31],[1.27,-1.03],[1.38,-.87],[1.44,-.64],[1.51,-.35],[.76,-1.42],[.57,-1.51],[.29,-1.57],[.09,-1.6],[1.33,-1.15],[1.21,-1.27],[1.04,-1.39],[.86,-1.5],[1.49,-.94],[1.55,-.73],[1.36,-.73],[1.23,-.96],[1.08,-1.19],[.89,-1.34],[.64,-1.45],[1.46,-.51],[.37,-1.54],[.16,-1.45],[-.1,-1.56],[-.32,-1.61],[-.57,-1.48],[-.82,-1.33],[-1.02,-1.21],[-1.2,-1.03],[-1.35,-.83],[-1.41,-.59],[-1.48,-.35],[-.39,-1.51],[-.65,-1.43],[-.89,-1.28],[-1.09,-1.11],[-1.27,-.91],[-1.38,-.7],[-1.51,-.53],[-.21,-1.45],[-.47,-1.56],[-.74,-1.39],[-.96,-1.23],[-1.15,-1.04],[-1.32,-.78],[-1.43,-.45],[-1.4,-.16],[-1.52,-.23],[-1.22,-.64]];

const corePoints = [[.04,.04],[.12,.11],[.07,.09],[.2,.2],[.16,.06],[.1,.18],[.24,.09],[.3,.2],[.06,.24],[.13,.3],[.22,.28],[.35,.26],[.27,.36],[.18,.41],[.02,.14],[.09,.05],[-.04,.05],[-.12,.1],[-.07,.08],[-.2,.19],[-.16,.05],[-.1,.17],[-.24,.08],[-.3,.19],[-.06,.23],[-.13,.29],[-.22,.27],[-.35,.25],[-.27,.35],[-.18,.4],[-.02,.13],[-.09,.04],[.04,-.05],[.12,-.12],[.07,-.1],[.2,-.21],[.16,-.07],[.1,-.19],[.24,-.1],[.3,-.21],[.06,-.25],[.13,-.31],[.22,-.29],[.35,-.27],[.27,-.37],[.18,-.42],[.02,-.15],[.09,-.06],[-.04,-.06],[-.12,-.11],[-.07,-.09],[-.2,-.2],[-.16,-.06],[-.1,-.18],[-.24,-.09],[-.3,-.2],[-.06,-.24],[-.13,-.3],[-.22,-.28],[-.35,-.26],[-.27,-.36],[-.18,-.41],[-.02,-.14],[-.09,-.05]];

const allPoints = [...outerNW, ...outerNE, ...outerSW, ...outerSE, ...innerNW, ...innerNE, ...innerSW, ...innerSE, ...denseNW, ...denseNE, ...denseSW, ...denseSE, ...ringPoints, ...corePoints];
const circleAngles = Array.from({ length: 181 }, (_, i) => (i * Math.PI) / 90);

export default function App() {
  const ref = useRef<HTMLCanvasElement | null>(null);
  useEffect(() => {
    document.body.style.margin = "0";
    const frame = {
      id: "frame",
      afterDatasetsDraw(chart: any) {
        const { ctx, chartArea: a, scales } = chart;
        ctx.save();
        ctx.strokeStyle = "#111";
        ctx.lineWidth = 1;
        for (const t of tickValues) {
          const px = Math.round(scales.x.getPixelForValue(t)) + 0.5;
          const py = Math.round(scales.y.getPixelForValue(t)) + 0.5;
          ctx.beginPath();
          ctx.moveTo(px, a.top); ctx.lineTo(px, a.top + 6);
          ctx.moveTo(px, a.bottom); ctx.lineTo(px, a.bottom - 6);
          ctx.moveTo(a.left, py); ctx.lineTo(a.left + 6, py);
          ctx.moveTo(a.right, py); ctx.lineTo(a.right - 6, py);
          ctx.stroke();
        }
        ctx.lineWidth = 1.5;
        ctx.strokeRect(a.left, a.top, a.right - a.left, a.bottom - a.top);
        ctx.restore();
      },
    };
    const dotted = { borderColor: "#000", borderWidth: 3, borderDash: [1.8, 4.5], pointRadius: 0, showLine: true };
    const chart = new Chart(ref.current as HTMLCanvasElement, {
      type: "scatter",
      data: {
        datasets: [
          { label: "zeroV", data: [{ x: 0, y: -5 }, { x: 0, y: 5 }], showLine: true, borderColor: "#000", borderWidth: 2, pointRadius: 0, order: 1 },
          { label: "zeroH", data: [{ x: -5, y: 0 }, { x: 5, y: 0 }], showLine: true, borderColor: "#000", borderWidth: 2, pointRadius: 0, order: 1 },
          { label: "medV", data: [{ x: medianRa, y: -5 }, { x: medianRa, y: 5 }], ...dotted, order: 2 },
          { label: "medH", data: [{ x: -5, y: medianDec }, { x: 5, y: medianDec }], ...dotted, order: 2 },
          { label: "std", data: circleAngles.map((t) => ({ x: medianRa + stdRadius * Math.cos(t), y: medianDec + stdRadius * Math.sin(t) })), ...dotted, order: 3 },
          { label: "offsets", data: allPoints.map(([x, y]) => ({ x, y })), backgroundColor: "#808080", borderWidth: 0, pointRadius: 1.1, order: 5 },
        ],
      },
      options: {
        animation: false,
        responsive: false,
        layout: { autoPadding: false, padding: { top: 0, right: -0.75, bottom: 0, left: 0 } },
        plugins: {
          legend: { display: false },
          tooltip: { enabled: false },
          title: {
            display: true,
            fullSize: false,
            text: titleText,
            color: "#000",
            font: { family: "DejaVu Sans", size: 22.5, weight: "normal", lineHeight: 1.2 },
            padding: { top: 0, bottom: 2.7 },
          },
        },
        scales: {
          x: {
            type: "linear", reverse: true, min: -5, max: 5,
            afterFit: (s: any) => { s.height = 53.7; s.paddingLeft = 0; s.paddingRight = 0; },
            afterBuildTicks: (s: any) => { s.ticks = tickValues.map((value) => ({ value })); },
            grid: { display: false, drawTicks: false },
            border: { display: false },
            ticks: { color: "#000", font: { family: "DejaVu Sans", size: 18.67 }, padding: 4, maxRotation: 0, callback: (v: any) => String(v).replace("-", "\u2212") },
            title: { display: true, text: xLabel, color: "#000", font: { family: "DejaVu Sans", size: 18.67 }, padding: { top: 1.3, bottom: 0 } },
          },
          y: {
            type: "linear", min: -5, max: 5,
            afterFit: (s: any) => { s.width = 66.25; s.paddingTop = 0; s.paddingBottom = 0; },
            afterBuildTicks: (s: any) => { s.ticks = tickValues.map((value) => ({ value })); },
            grid: { display: false, drawTicks: false },
            border: { display: false },
            ticks: { color: "#000", font: { family: "DejaVu Sans", size: 18.67 }, padding: 3.5, callback: (v: any) => String(v).replace("-", "\u2212") },
            title: { display: true, text: yLabel, color: "#000", font: { family: "DejaVu Sans", size: 18.67 }, padding: { top: 7, bottom: 0 } },
          },
        },
      },
      plugins: [frame],
    } as any);
    return () => chart.destroy();
  }, []);
  return <canvas ref={ref} width={603} height={621} style={{ display: "block" }} />;
}
